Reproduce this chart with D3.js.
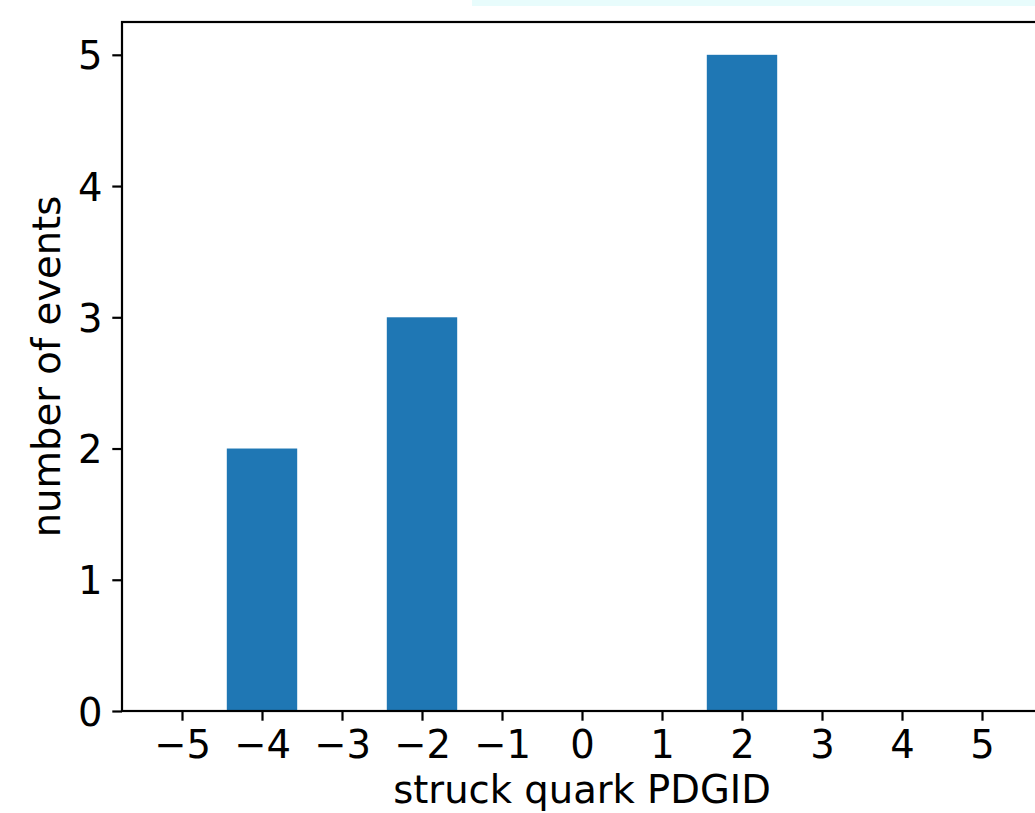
<!DOCTYPE html>
<html>
<head>
<meta charset="utf-8">
<script src="https://cdn.jsdelivr.net/npm/d3@7"></script>
<style>
  html, body { margin: 0; padding: 0; background: #fff; }
  svg { display: block; }
  text { font-family: "DejaVu Sans", sans-serif; fill: #000; }
</style>
</head>
<body>
<svg id="chart" width="1035" height="813"></svg>
<script>
// Data
const pdgIds = [-5, -4, -3, -2, -1, 0, 1, 2, 3, 4, 5];
const counts = [0, 2, 0, 3, 0, 0, 0, 5, 0, 0, 0];
const xTickValues = [-5, -4, -3, -2, -1, 0, 1, 2, 3, 4, 5];
const yTickValues = [0, 1, 2, 3, 4, 5];
const xLabel = "struck quark PDGID";
const yLabel = "number of events";

const W = 1035, H = 813;
const plot = { left: 122, right: 1042, top: 22, bottom: 711 };
const fontSize = 38.5;
const tickLen = 9.7, tickPad = 9.7, lw = 2.2;
const barColor = "#1f77b4";
const barWidth = 0.88;

const svg = d3.select("#chart");

// faint cyan strip at the top (artifact in reference)
svg.append("rect").attr("x", 472).attr("y", 0).attr("width", W - 472).attr("height", 6)
  .attr("fill", "#e8fcfc");

const x = d3.scaleLinear().domain([-5.75, 5.75]).range([plot.left, plot.right]);
const y = d3.scaleLinear().domain([0, 5.25]).range([plot.bottom, plot.top]);

// bars
svg.append("g").selectAll("rect").data(pdgIds.map((d, i) => ({ id: d, n: counts[i] })).filter(d => d.n > 0))
  .join("rect")
  .attr("x", d => x(d.id - barWidth / 2))
  .attr("width", d => x(d.id + barWidth / 2) - x(d.id - barWidth / 2))
  .attr("y", d => y(d.n))
  .attr("height", d => y(0) - y(d.n))
  .attr("fill", barColor);

// x axis
const xAxis = d3.axisBottom(x).tickValues(xTickValues).tickSize(tickLen).tickPadding(tickPad)
  .tickFormat(d3.format("d"));
const gx = svg.append("g").attr("transform", `translate(0,${plot.bottom})`).call(xAxis);
gx.select(".domain").remove();
gx.selectAll(".tick line").attr("stroke", "#000").attr("stroke-width", lw);
gx.selectAll(".tick text").attr("font-size", fontSize).attr("font-family", "DejaVu Sans")
  .attr("dy", null).attr("y", 758 - plot.bottom);

// y axis
const yAxis = d3.axisLeft(y).tickValues(yTickValues).tickSize(tickLen).tickPadding(tickPad)
  .tickFormat(d3.format("d"));
const gy = svg.append("g").attr("transform", `translate(${plot.left},0)`).call(yAxis);
gy.select(".domain").remove();
gy.selectAll(".tick line").attr("stroke", "#000").attr("stroke-width", lw);
gy.selectAll(".tick text").attr("font-size", fontSize).attr("font-family", "DejaVu Sans")
  .attr("dy", null).attr("y", 14);

// spines
const spines = svg.append("g").attr("stroke", "#000").attr("stroke-width", lw).attr("fill", "none");
spines.append("rect")
  .attr("x", plot.left).attr("y", plot.top)
  .attr("width", plot.right - plot.left).attr("height", plot.bottom - plot.top);

// axis labels
svg.append("text").attr("x", (plot.left + plot.right) / 2).attr("y", 803)
  .attr("text-anchor", "middle").attr("font-size", fontSize).text(xLabel);
svg.append("text")
  .attr("transform", `translate(60,${(plot.top + plot.bottom) / 2}) rotate(-90)`)
  .attr("text-anchor", "middle").attr("font-size", fontSize).text(yLabel);
</script>
</body>
</html>
